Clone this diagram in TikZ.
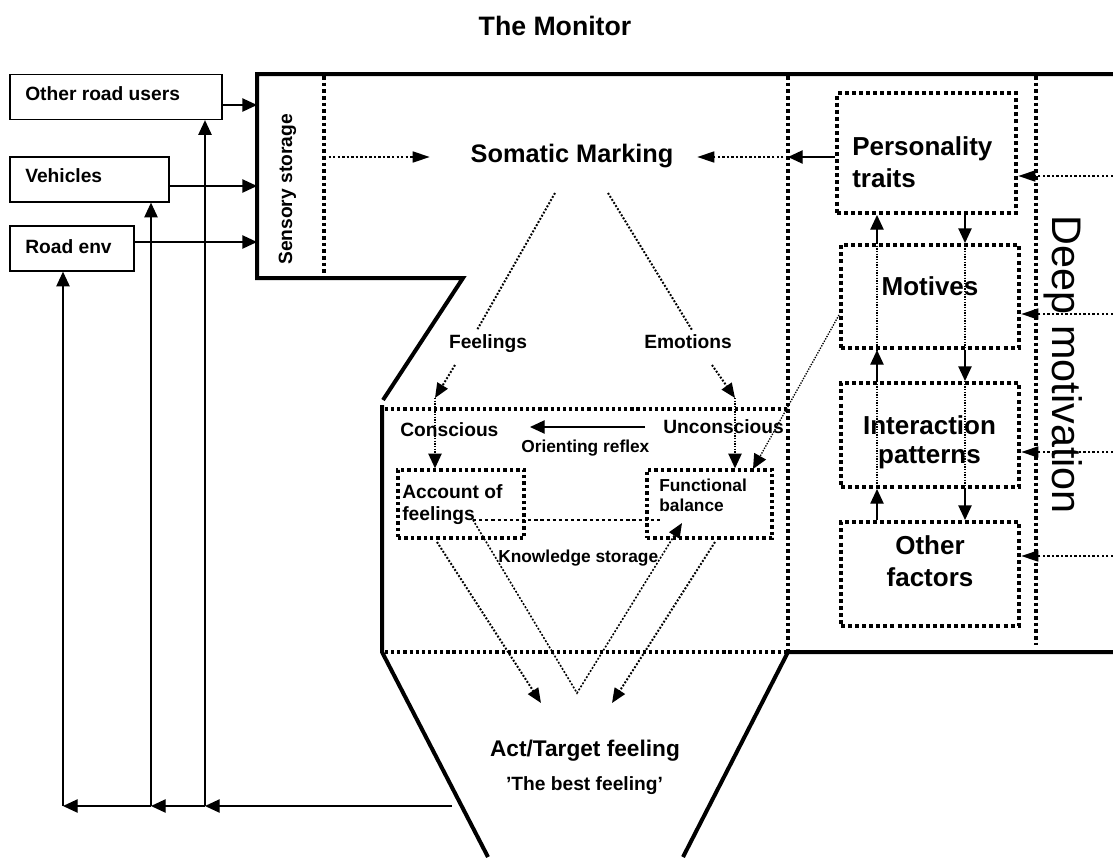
\documentclass[tikz,border=0pt]{standalone}
\usepackage{fontspec}
\setmainfont{Liberation Sans}
\usetikzlibrary{arrows.meta}
\begin{document}
\begin{tikzpicture}[x=0.75pt,y=-0.75pt,
  outline/.style={line width=3pt, line join=miter},
  solidarrow/.style={line width=1pt, -{Triangle[length=11pt,width=10pt]}},
  sepdot/.style={line width=2.8pt, dash pattern=on 2.8pt off 2.2pt},
  ksdot/.style={line width=2.4pt, dash pattern=on 2.4pt off 2.2pt},
  boxdot/.style={draw, line width=3pt, dash pattern=on 3pt off 2.3pt, inner sep=0pt},
  dotarrow/.style={line width=2pt, dash pattern=on 1.8pt off 1.6pt, -{Triangle[length=13pt,width=8pt]}},
  dotline/.style={line width=1.5pt, dash pattern=on 1.4pt off 1.3pt},
  dotarrowsm/.style={line width=1.5pt, dash pattern=on 1.4pt off 1.3pt, -{Triangle[length=11pt,width=9pt]}},
  finedot/.style={line width=1pt, dash pattern=on 1pt off 1pt},
  finedotarrow/.style={line width=1pt, dash pattern=on 1pt off 1pt, -{Triangle[length=11pt,width=10pt]}},
  lbox/.style={draw, line width=1pt, inner sep=0pt, minimum height=45*0.75pt},
  txt/.style={inner sep=0pt, font=\fontsize{14.4pt}{17pt}\selectfont\bfseries},
  stxt/.style={inner sep=0pt, font=\fontsize{13pt}{15pt}\selectfont\bfseries},
  btxt/.style={inner sep=0pt, font=\fontsize{19.5pt}{23pt}\selectfont\bfseries},
]
\useasboundingbox (0,0) rectangle (1113,857);

% title
\node[inner sep=0pt, anchor=base, font=\fontsize{20pt}{24pt}\selectfont\bfseries] (title) at (555,35) {The Monitor};

% left boxes
\node[lbox, minimum width=212*0.75pt] (oru) at (116,97) {};
\node[lbox, minimum width=159*0.75pt] (veh) at (89.5,179.5) {};
\node[lbox, minimum width=124*0.75pt] (renv) at (72,248.5) {};
\node[txt, anchor=base west] (orut) at (25,100) {Other road users};
\node[txt, anchor=base west] (veht) at (25,182) {Vehicles};
\node[txt, anchor=base west] (renvt) at (25,253) {Road env};

% outline
\draw[outline] (1113,74) -- (257,74) -- (257,278) -- (463,278) -- (383,400);
\draw[outline] (382,405) -- (382,652) -- (488,857);
\draw[outline] (683,857) -- (788,652) -- (1113,652);

% separators
\draw[sepdot] (324,76) -- (324,278);
\draw[sepdot] (788,76) -- (788,652);
\draw[sepdot] (1036,76) -- (1036,645);
\draw[ksdot] (385,409) -- (788,409);
\draw[ksdot] (385,652) -- (788,652);

% sensory storage
\node[txt, rotate=90, anchor=base west] (sens) at (292,265) {Sensory storage};

% inputs
\coordinate (s1) at (257,105);
\coordinate (s2) at (257,186);
\coordinate (s3) at (257,242);
\draw[solidarrow] (oru.east |- s1) -- (s1);
\draw[solidarrow] (veh.east |- s2) -- (s2);
\draw[solidarrow] (renv.east |- s3) -- (s3);

% feedback loop
\coordinate (fbstart) at (452,806);
\coordinate (f1) at (205,806);
\coordinate (f2) at (151,806);
\coordinate (f3) at (63,806);
\draw[solidarrow] (fbstart) -- (f1);
\draw[solidarrow] (f1) -- (f2);
\draw[solidarrow] (f2) -- (f3);
\draw[solidarrow] (f1) -- (f1 |- oru.south);
\draw[solidarrow] (f2) -- (f2 |- veh.south);
\draw[solidarrow] (f3) -- (f3 |- renv.south);

% somatic marking
\node[inner sep=0pt, anchor=base, font=\fontsize{19pt}{23pt}\selectfont\bfseries] (som) at (572,162) {Somatic Marking};
\coordinate (sepL) at (324,157);
\coordinate (sepR) at (788,157);
\coordinate (smL) at (430,157);
\coordinate (smR) at (697,157);
\draw[dotarrow] (sepL) -- (smL);
\draw[dotarrow] (sepR) -- (smR);

% right boxes
\node[boxdot, minimum width=179*0.75pt, minimum height=120*0.75pt] (pers) at (926.5,153) {};
\node[boxdot, minimum width=178*0.75pt, minimum height=103*0.75pt] (mot) at (930,296.5) {};
\node[boxdot, minimum width=178*0.75pt, minimum height=104*0.75pt] (inter) at (930,435) {};
\node[boxdot, minimum width=178*0.75pt, minimum height=104*0.75pt] (other) at (930,574) {};
\node[btxt, anchor=base west] (perst1) at (852,155) {Personality};
\node[btxt, anchor=base west] (perst2) at (852,187) {traits};
\node[btxt, anchor=base] (mott) at (930,295) {Motives};
\node[btxt, anchor=base] (intert1) at (929.5,434) {Interaction};
\node[btxt, anchor=base] (intert2) at (929.5,463) {patterns};
\node[btxt, anchor=base] (othert1) at (930,554) {Other};
\node[btxt, anchor=base] (othert2) at (930,586) {factors};

\draw[solidarrow] (pers.west |- sepR) -- (sepR);

% arrows between right boxes
\coordinate (up) at (877,0);
\coordinate (dn) at (965,0);
\draw[solidarrow] (up |- mot.north) -- (up |- pers.south);
\draw[solidarrow] (dn |- pers.south) -- (dn |- mot.north);
\draw[solidarrow] (up |- inter.north) -- (up |- mot.south);
\draw[solidarrow] (dn |- mot.south) -- (dn |- inter.north);
\draw[solidarrow] (up |- other.north) -- (up |- inter.south);
\draw[solidarrow] (dn |- inter.south) -- (dn |- other.north);
\draw[finedot] (up |- mot.north) -- (up |- mot.south);
\draw[finedot] (dn |- mot.north) -- (dn |- mot.south);
\draw[finedot] (up |- inter.north) -- (up |- inter.south);
\draw[finedot] (dn |- inter.north) -- (dn |- inter.south);

% deep motivation
\node[inner sep=0pt, rotate=-90, anchor=base west, font=\fontsize{31pt}{36pt}\selectfont] (deep) at (1052,215) {Deep motivation};
\coordinate (d1) at (1113,176);
\coordinate (d2) at (1113,314);
\coordinate (d3) at (1113,452);
\coordinate (d4) at (1113,556);
\draw[dotarrow] (d1) -- (pers.east |- d1);
\draw[dotarrow] (d2) -- (mot.east |- d2);
\draw[dotarrow] (d3) -- (inter.east |- d3);
\draw[dotarrow] (d4) -- (other.east |- d4);

% feelings / emotions
\node[txt, anchor=base] (feel) at (488,348) {Feelings};
\node[txt, anchor=base] (emo) at (688,348) {Emotions};
\draw[dotline] (555,193) -- (477,330);
\draw[dotline] (608,193) -- (692,330);
\coordinate (fa) at (435,398);
\coordinate (ea) at (735,398);
\draw[dotarrowsm] (455,365) -- (fa);
\draw[dotarrowsm] (712,365) -- (ea);

% knowledge storage contents
\node[txt, anchor=base west] (consc) at (400,436) {Conscious};
\node[txt, anchor=base west] (uncon) at (663,433) {Unconscious};
\node[stxt, anchor=base west] (orient) at (521,452) {Orienting reflex};
\coordinate (orR) at (645,427);
\coordinate (orL) at (530,427);
\draw[solidarrow] (orR) -- (orL);

\node[boxdot, line width=2.6pt, dash pattern=on 2.6pt off 2.2pt, minimum width=126*0.75pt, minimum height=68*0.75pt] (acc) at (461,504) {};
\node[boxdot, line width=2.6pt, dash pattern=on 2.6pt off 2.2pt, minimum width=125*0.75pt, minimum height=68*0.75pt] (fb) at (709.5,504) {};
\node[txt, anchor=base west] (acct1) at (402,498) {Account of};
\node[txt, anchor=base west] (acct2) at (402,520) {feelings};
\node[stxt, anchor=base west] (fbt1) at (659,491) {Functional};
\node[stxt, anchor=base west] (fbt2) at (659,511) {balance};
\node[stxt, anchor=base west] (know) at (498,562) {Knowledge storage};

\draw[finedotarrow] (fa) -- (fa |- acc.north);
\draw[finedotarrow] (ea) -- (ea |- fb.north);
\coordinate (mfb) at (753,469);
\draw[finedotarrow] (mot.west |- 0,315) -- (mfb);
\draw[ksdot, line width=2pt] (473,520) -- (663,520);

% lower arrows
\coordinate (vL) at (541,703);
\coordinate (vM) at (577,693);
\coordinate (vR) at (612,703);
\coordinate (vFB) at (682,523);
\draw[dotarrowsm] (437,542) -- (vL);
\draw[dotarrowsm, line width=1.2pt] (473,520) -- (vM) -- (vFB);
\draw[dotarrowsm] (715,542) -- (vR);

% act / target feeling
\node[inner sep=0pt, anchor=base, font=\fontsize{17pt}{20pt}\selectfont\bfseries] (act) at (585,756) {Act/Target feeling};
\node[txt, anchor=base] (best) at (584.5,790) {’The best feeling’};
\end{tikzpicture}
\end{document}
